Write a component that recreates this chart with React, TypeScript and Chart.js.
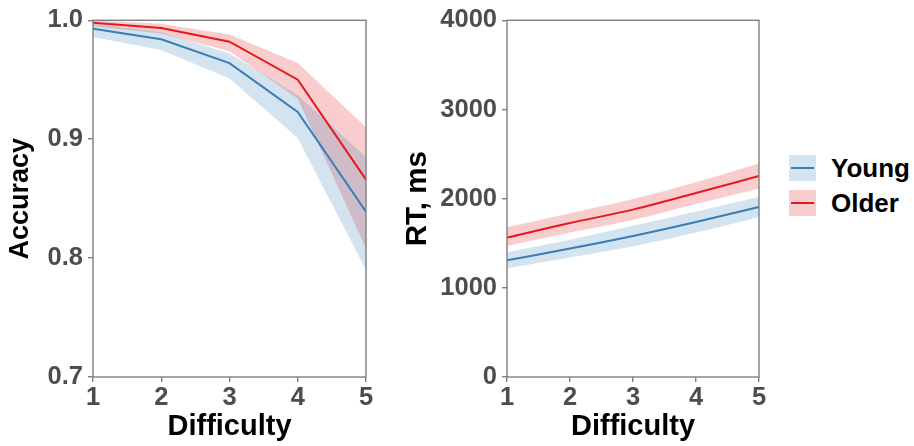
import React, { useEffect, useRef } from 'react';
import { Chart, registerables } from 'chart.js';

Chart.register(...registerables);

const difficulty = [1, 2, 3, 4, 5];

const accYoung = [0.993, 0.984, 0.964, 0.923, 0.839];
const accYoungLo = [0.986, 0.975, 0.951, 0.901, 0.79];
const accYoungHi = [0.997, 0.99, 0.972, 0.937, 0.885];
const accOlder = [0.998, 0.9935, 0.982, 0.95, 0.866];
const accOlderLo = [0.995, 0.989, 0.974, 0.934, 0.808];
const accOlderHi = [1.0, 0.997, 0.988, 0.964, 0.91];

const rtYoung = [1309, 1440, 1581, 1738, 1907];
const rtYoungLo = [1220, 1340, 1465, 1620, 1795];
const rtYoungHi = [1400, 1540, 1695, 1855, 2020];
const rtOlder = [1563, 1727, 1877, 2063, 2254];
const rtOlderLo = [1470, 1620, 1760, 1940, 2115];
const rtOlderHi = [1680, 1835, 1995, 2185, 2395];

const accTicks = [0.7, 0.8, 0.9, 1.0];
const rtTicks = [0, 1000, 2000, 3000, 4000];
const groupLabels = ['Young', 'Older'];

const BLUE = '#377EB8';
const RED = '#E41A1C';
const BLUE_BAND = 'rgba(55,126,184,0.22)';
const RED_BAND = 'rgba(228,26,28,0.22)';
const AXIS = '#7f7f7f';
const TICK_TEXT = '#4D4D4D';
const FONT = '"Liberation Sans", Arial, sans-serif';

const toXY = (ys: number[]) => ys.map((y, i) => ({ x: difficulty[i], y }));

const borderPlugin = {
  id: 'panelBorder',
  afterDatasetsDraw(chart: any) {
    const { ctx, chartArea } = chart;
    ctx.save();
    ctx.strokeStyle = AXIS;
    ctx.lineWidth = 1.4;
    ctx.strokeRect(chartArea.left, chartArea.top, chartArea.right - chartArea.left, chartArea.bottom - chartArea.top);
    ctx.restore();
  },
};

type PanelProps = {
  left: number;
  width: number;
  yWidth: number;
  padRight: number;
  yTitle: string;
  yTitleSize: number;
  yTitlePad: number;
  yTicks: number[];
  fmt: (v: number) => string;
  young: number[];
  youngLo: number[];
  youngHi: number[];
  older: number[];
  olderLo: number[];
  olderHi: number[];
  smooth: boolean;
};

function Panel(p: PanelProps) {
  const ref = useRef<HTMLCanvasElement | null>(null);
  useEffect(() => {
    if (!ref.current) return;
    const lineCommon = {
      pointRadius: 0,
      borderWidth: 2,
      tension: 0,
      cubicInterpolationMode: p.smooth ? 'monotone' : 'default',
    };
    const bandCommon = {
      pointRadius: 0,
      borderWidth: 0,
      borderColor: 'rgba(0,0,0,0)',
      tension: 0,
      cubicInterpolationMode: p.smooth ? 'monotone' : 'default',
    };
    const chart = new Chart(ref.current, {
      type: 'line',
      data: {
        datasets: [
          { ...lineCommon, label: groupLabels[1], data: toXY(p.older), borderColor: RED, fill: false },
          { ...lineCommon, label: groupLabels[0], data: toXY(p.young), borderColor: BLUE, fill: false },
          { ...bandCommon, label: 'yhi', data: toXY(p.youngHi), backgroundColor: BLUE_BAND, fill: '+1' },
          { ...bandCommon, label: 'ylo', data: toXY(p.youngLo), fill: false },
          { ...bandCommon, label: 'ohi', data: toXY(p.olderHi), backgroundColor: RED_BAND, fill: '+1' },
          { ...bandCommon, label: 'olo', data: toXY(p.olderLo), fill: false },
        ] as any,
      },
      options: {
        animation: false,
        responsive: false,
        layout: { padding: { top: 20, right: p.padRight, left: 0, bottom: 0 } },
        plugins: { legend: { display: false }, tooltip: { enabled: false } },
        scales: {
          x: {
            type: 'linear',
            min: 1,
            max: 5,
            afterFit: (s: any) => { s.height = 69; },
            border: { display: false },
            grid: { drawOnChartArea: false, drawTicks: true, tickLength: 5, color: AXIS, lineWidth: 1.4 },
            ticks: {
              stepSize: 1,
              padding: 1,
              color: TICK_TEXT,
              font: { family: FONT, size: 25.5, weight: 'bold' },
              callback: (v: any) => String(v),
            },
            title: {
              display: true,
              text: 'Difficulty',
              color: '#000',
              font: { family: FONT, size: 29, weight: 'bold' },
              padding: { top: 0, bottom: 2 },
            },
          },
          y: {
            type: 'linear',
            min: p.yTicks[0],
            max: p.yTicks[p.yTicks.length - 1],
            afterFit: (s: any) => { s.width = p.yWidth; },
            afterBuildTicks: (s: any) => { s.ticks = p.yTicks.map((v) => ({ value: v })); },
            border: { display: false },
            grid: { drawOnChartArea: false, drawTicks: true, tickLength: 5, color: AXIS, lineWidth: 1.4 },
            ticks: {
              padding: 5,
              color: TICK_TEXT,
              font: { family: FONT, size: 25.5, weight: 'bold' },
              callback: (v: any) => p.fmt(Number(v)),
            },
            title: {
              display: true,
              text: p.yTitle,
              color: '#000',
              font: { family: FONT, size: p.yTitleSize, weight: 'bold' },
              padding: { top: p.yTitlePad, bottom: 0 },
            },
          },
        },
      } as any,
      plugins: [borderPlugin],
    });
    return () => chart.destroy();
  }, []);
  return (
    <canvas
      ref={ref}
      width={p.width}
      height={446}
      style={{ position: 'absolute', left: p.left, top: 0, width: p.width, height: 446 }}
    />
  );
}

function LegendItem({ top, color, band, label }: { top: number; color: string; band: string; label: string }) {
  return (
    <div style={{ position: 'absolute', left: 789, top, height: 26, width: 125 }}>
      <div style={{ position: 'absolute', left: 0, top: 0, width: 27, height: 26, background: band }}>
        <div style={{ position: 'absolute', left: 2, right: 2, top: 12, height: 2, background: color }} />
      </div>
      <div
        style={{
          position: 'absolute',
          left: 42,
          top: -3,
          lineHeight: '32px',
          fontFamily: FONT,
          fontWeight: 'bold',
          fontSize: 26,
          color: '#000',
          whiteSpace: 'nowrap',
        }}
      >
        {label}
      </div>
    </div>
  );
}

export default function App() {
  return (
    <div style={{ position: 'absolute', left: 0, top: 0, width: 914, height: 446, background: '#fff', overflow: 'hidden' }}>
      <Panel
        left={0}
        width={380}
        yWidth={93}
        padRight={14}
        yTitle="Accuracy"
        yTitleSize={27}
        yTitlePad={4}
        yTicks={accTicks}
        fmt={(v) => v.toFixed(1)}
        young={accYoung}
        youngLo={accYoungLo}
        youngHi={accYoungHi}
        older={accOlder}
        olderLo={accOlderLo}
        olderHi={accOlderHi}
        smooth={false}
      />
      <Panel
        left={400}
        width={380}
        yWidth={107}
        padRight={21}
        yTitle="RT, ms"
        yTitleSize={29.5}
        yTitlePad={0}
        yTicks={rtTicks}
        fmt={(v) => String(Math.round(v))}
        young={rtYoung}
        youngLo={rtYoungLo}
        youngHi={rtYoungHi}
        older={rtOlder}
        olderLo={rtOlderLo}
        olderHi={rtOlderHi}
        smooth={true}
      />
      <LegendItem top={155} color={BLUE} band={BLUE_BAND} label={groupLabels[0]} />
      <LegendItem top={190} color={RED} band={RED_BAND} label={groupLabels[1]} />
    </div>
  );
}
